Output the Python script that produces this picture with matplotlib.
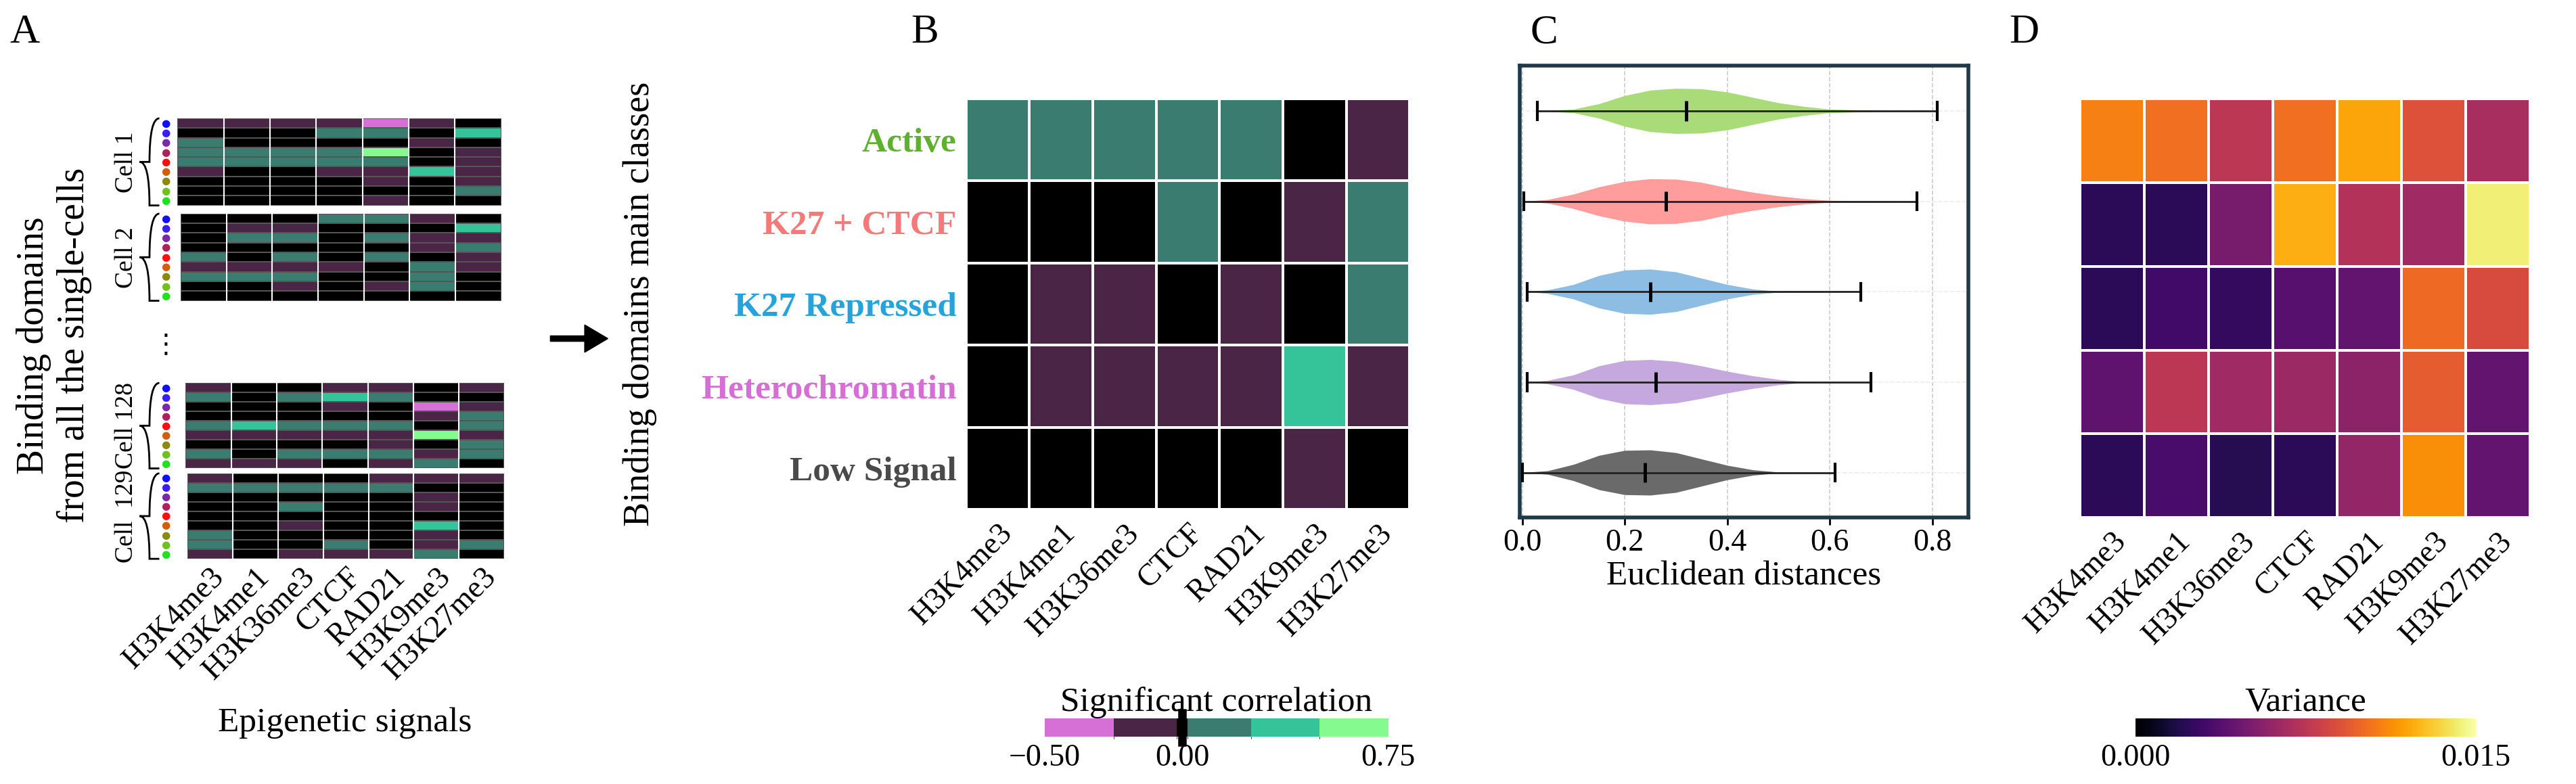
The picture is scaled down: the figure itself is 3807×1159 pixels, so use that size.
"""figure_domains.py — Classes de domaines de liaison et signaux épigénétiques.

Quatre panneaux :
  A - schéma des domaines de liaison par cellule (heatmaps par cellule),
  B - corrélation significative classe × signal,
  C - distances euclidiennes par classe (violons),
  D - variance par classe × signal.
"""

import numpy as np
import matplotlib
matplotlib.use("Agg")                    # pas d'affichage interactif
import matplotlib.pyplot as plt
from matplotlib.colors import ListedColormap, BoundaryNorm
from matplotlib.path import Path
from matplotlib.patches import PathPatch, FancyArrow

plt.rcParams["font.family"] = ["Liberation Serif", "DejaVu Serif"]

W, H = 1568.0, 477.0                     # repère de mesure sur la référence
FS_TICK, FS_LAB, FS_LET = 33, 37, 44

SIGNALS = ["H3K4me3", "H3K4me1", "H3K36me3", "CTCF", "RAD21", "H3K9me3", "H3K27me3"]
CLASSES = ["Active", "K27 + CTCF", "K27 Repressed", "Heterochromatin", "Low Signal"]
CLASS_TXT = ["#5fb030", "#f47a7a", "#27a3dc", "#d56fd5", "#4a4a4a"]
VIOLIN_COL = ["#a9dc78", "#ff9c9c", "#8dbde3", "#c5a8de", "#6a6a6a"]

CORR_COLORS = ["#d670d6", "#4a2545", "#000000", "#3a7d70", "#35c39a", "#85fb8f"]
CORR_BOUNDS = [-0.5, -0.25, -0.02, 0.02, 0.25, 0.5, 0.75]
CODE_VAL = {-2: -0.375, -1: -0.125, 0: 0.0, 1: 0.125, 2: 0.375, 3: 0.625}

# ── Panneau A : codes par cellule (9 domaines × 7 signaux) ──────────────────
CELLS = {
    "Cell 1": [[-1, -1, -1, -1, -2, -1, 0], [0, 0, 0, 1, 1, 0, 2], [1, 0, 0, 0, 0, -1, 0],
               [1, 1, 1, 1, 3, 0, -1], [1, 1, 1, 1, 1, 0, -1], [-1, 0, 0, -1, -1, 2, -1],
               [0, 0, 0, 0, -1, 0, -1], [0, 0, 0, 0, 0, 0, 1], [0, 0, 0, 0, -1, 0, 0]],
    "Cell 2": [[0, 0, 0, 1, 1, -1, 0], [0, -1, -1, 0, 0, 0, 2], [0, 1, 1, 0, 1, -1, -1],
               [0, 0, 0, 0, 0, -1, 1], [1, 0, 1, 0, 1, 0, -1], [-1, -1, -1, -1, 0, 1, -1],
               [1, 1, 1, 0, 0, 1, 0], [0, 0, -1, 0, -1, 1, 0], [0, 0, 0, 0, 0, 0, 0]],
    "Cell 128": [[-1, 0, 0, -1, -1, 0, -1], [1, 0, 1, 2, 1, 0, 0], [0, 0, 0, -1, 0, -2, -1],
                 [0, 0, 0, 0, 0, -1, 1], [1, 2, 1, 1, 1, 0, 1], [-1, -1, -1, -1, -1, 3, -1],
                 [0, 0, 0, 0, -1, 0, 1], [1, 0, 1, 1, 1, -1, 1], [-1, -1, -1, 0, -1, 1, 0]],
    "Cell  129": [[-1, 0, 0, 0, -1, -1, -1], [1, 1, 1, 1, 1, 0, 0], [0, 0, 0, 0, 0, -1, 0],
                  [0, 0, 1, 0, 0, -1, 0], [0, 0, 0, 0, 0, 0, 0], [0, 0, -1, 0, 0, 2, 0],
                  [1, 0, 0, 0, 0, -1, 0], [1, 0, 0, 1, 0, -1, 1], [-1, 0, -1, -1, -1, 1, 0]],
}
CELL_BOXES = [(108, 72, 305, 125), (110, 130, 305, 183), (113, 233, 307, 285), (114, 288, 307, 340)]
DOT_COLORS = ["#1010ff", "#3a20f0", "#7a2aa8", "#b0205a", "#ff1010", "#d06010",
              "#8a8a10", "#70c020", "#20e020"]

# ── Panneau B : corrélations (classes × signaux) ────────────────────────────
CORR = [[1, 1, 1, 1, 1, 0, -1],
        [0, 0, 0, 1, 0, -1, 1],
        [0, -1, -1, 0, -1, 0, 1],
        [0, -1, -1, -1, -1, 2, -1],
        [0, 0, 0, 0, 0, -1, 0]]

# ── Panneau C : profils des violons (x, demi-largeur) + min / médiane / max ─
VIOLINS = [
    dict(x=[0.03, 0.10, 0.15, 0.20, 0.25, 0.30, 0.35, 0.40, 0.45, 0.50, 0.55, 0.60, 0.70, 0.81],
         w=[0.0, 0.02, 0.08, 0.17, 0.23, 0.25, 0.245, 0.21, 0.15, 0.09, 0.05, 0.02, 0.005, 0.0],
         stats=(0.03, 0.32, 0.81)),
    dict(x=[0.003, 0.05, 0.10, 0.15, 0.20, 0.25, 0.30, 0.35, 0.40, 0.45, 0.50, 0.55, 0.60, 0.77],
         w=[0.0, 0.02, 0.08, 0.16, 0.22, 0.25, 0.245, 0.21, 0.15, 0.10, 0.06, 0.03, 0.01, 0.0],
         stats=(0.003, 0.28, 0.77)),
    dict(x=[0.01, 0.05, 0.10, 0.15, 0.20, 0.25, 0.30, 0.35, 0.40, 0.45, 0.50, 0.66],
         w=[0.0, 0.02, 0.08, 0.18, 0.24, 0.25, 0.22, 0.15, 0.08, 0.03, 0.005, 0.0],
         stats=(0.01, 0.25, 0.66)),
    dict(x=[0.01, 0.05, 0.10, 0.15, 0.20, 0.25, 0.30, 0.35, 0.40, 0.45, 0.50, 0.55, 0.68],
         w=[0.0, 0.02, 0.08, 0.18, 0.24, 0.25, 0.23, 0.18, 0.12, 0.07, 0.03, 0.005, 0.0],
         stats=(0.01, 0.26, 0.68)),
    dict(x=[0.0, 0.05, 0.10, 0.15, 0.20, 0.25, 0.30, 0.35, 0.40, 0.45, 0.50, 0.61],
         w=[0.0, 0.02, 0.09, 0.19, 0.245, 0.25, 0.22, 0.15, 0.08, 0.03, 0.005, 0.0],
         stats=(0.0, 0.24, 0.61)),
]

# ── Panneau D : variance (fraction de 0.015) ────────────────────────────────
VAR = np.array([[0.72, 0.68, 0.50, 0.68, 0.80, 0.60, 0.45],
                [0.15, 0.15, 0.33, 0.82, 0.48, 0.43, 0.95],
                [0.15, 0.20, 0.17, 0.25, 0.28, 0.67, 0.58],
                [0.27, 0.50, 0.43, 0.42, 0.38, 0.63, 0.28],
                [0.15, 0.22, 0.14, 0.15, 0.40, 0.75, 0.28]]) * 0.015


def box(fig, x0, y0, x1, y1):
    """Axes à partir d'un rectangle mesuré (pixels de la référence, origine en haut)."""
    return fig.add_axes([x0 / W, 1 - y1 / H, (x1 - x0) / W, (y1 - y0) / H])


def brace(fig, x, y0, y1, depth=6):
    """Accolade verticale ouverte vers la droite, en pixels de référence."""
    ym = (y0 + y1) / 2
    pts = [(x + depth, y0), (x, y0), (x, ym), (x - depth, ym),
           (x, ym), (x, y1), (x + depth, y1)]
    pts = [(px / W, 1 - py / H) for px, py in pts]
    codes = [Path.MOVETO, Path.CURVE3, Path.CURVE3, Path.LINETO,
             Path.CURVE3, Path.CURVE3, Path.LINETO]
    fig.patches.append(PathPatch(Path(pts, codes), fill=False, lw=2,
                                 transform=fig.transFigure))


def panel_a(fig, cmap, norm):
    for k, ((name, codes), (x0, y0, x1, y1)) in enumerate(zip(CELLS.items(), CELL_BOXES)):
        ax = box(fig, x0, y0, x1, y1)
        vals = np.vectorize(CODE_VAL.get)(np.array(codes))
        ax.pcolormesh(vals, cmap=cmap, norm=norm, edgecolors="#555555", linewidth=0.3)
        for c in range(1, 7):
            ax.axvline(c, color="white", lw=1.5)
        ax.invert_yaxis()
        ax.set_xticks([])
        ax.set_yticks([])
        for s in ax.spines.values():
            s.set_visible(False)
        # points colorés (un par domaine)
        for r, col in enumerate(DOT_COLORS):
            yy = y0 + (r + 0.5) * (y1 - y0) / 9
            fig.text(101 / W, 1 - yy / H, "●", color=col, fontsize=11,
                     ha="center", va="center", family="DejaVu Sans")
        brace(fig, 91, y0, y1)
        fig.text(77 / W, 1 - (y0 + y1) / 2 / H, name, rotation=90, fontsize=27,
                 ha="center", va="center")
        if k == 3:
            ax.set_xticks(np.arange(7) + 0.5)
            ax.set_xticklabels(SIGNALS, rotation=45, ha="right", fontsize=FS_TICK,
                               rotation_mode="anchor")
            ax.tick_params(length=0, pad=4)
    fig.text(101 / W, 1 - 210 / H, "⋮", fontsize=28, ha="center", va="center",
             family="DejaVu Sans")
    fig.text(210 / W, 1 - 440 / H, "Epigenetic signals", fontsize=FS_LAB, ha="center", va="center")
    fig.text(33 / W, 1 - 210 / H, "Binding domains\nfrom all the single-cells", rotation=90,
             fontsize=FS_LAB + 3, ha="center", va="center", linespacing=1.2)
    fig.text(15 / W, 1 - 20 / H, "A", fontsize=FS_LET, ha="center", va="center")
    fig.patches.append(FancyArrow(335 / W, 1 - 206 / H, 35 / W, 0, width=0.007,
                                  head_width=0.035, head_length=0.009, color="black",
                                  length_includes_head=True, transform=fig.transFigure))


def panel_b(fig, cmap, norm):
    ax = box(fig, 588, 60, 858, 310)
    vals = np.vectorize(CODE_VAL.get)(np.array(CORR))
    ax.pcolormesh(vals, cmap=cmap, norm=norm, edgecolors="white", linewidth=1.5)
    ax.invert_yaxis()
    ax.set_yticks(np.arange(5) + 0.5)
    ax.set_yticklabels(CLASSES, fontsize=FS_LAB, fontweight="bold")
    for lab, col in zip(ax.get_yticklabels(), CLASS_TXT):
        lab.set_color(col)
    ax.set_xticks(np.arange(7) + 0.5)
    ax.set_xticklabels(SIGNALS, rotation=45, ha="right", rotation_mode="anchor", fontsize=FS_TICK)
    ax.tick_params(length=0, pad=10)
    for s in ax.spines.values():
        s.set_visible(False)
    ax.set_ylabel("Binding domains main classes", fontsize=FS_LAB + 2)
    ax.yaxis.set_label_coords((400 - 588) / 270, 0.5)

    cax = box(fig, 636, 437, 845, 448)
    cb = fig.colorbar(plt.cm.ScalarMappable(norm=norm, cmap=cmap), cax=cax,
                      orientation="horizontal", ticks=[-0.5, 0.0, 0.75], spacing="proportional")
    cb.ax.set_xticklabels(["\u22120.50", "0.00", "0.75"], fontsize=FS_TICK)
    cb.outline.set_visible(False)
    cb.ax.tick_params(length=0, pad=8)
    cb.ax.axvline(0.0, ymin=-0.3, ymax=1.3, color="black", lw=9, clip_on=False)
    cb.ax.set_title("Significant correlation", fontsize=FS_LAB, pad=4)
    fig.text(563 / W, 1 - 20 / H, "B", fontsize=FS_LET, ha="center", va="center")


def panel_c(fig):
    ax = box(fig, 925, 40, 1198, 315)
    for i, v in enumerate(VIOLINS):
        x = np.array(v["x"])
        w = np.array(v["w"])
        ax.fill_between(x, i - w, i + w, color=VIOLIN_COL[i], lw=0, zorder=2)
        lo, med, hi = v["stats"]
        ax.hlines(i, lo, hi, color="#222222", lw=2, zorder=3)
        ax.vlines([lo, hi], i - 0.11, i + 0.11, color="black", lw=3, zorder=3)
        ax.vlines(med, i - 0.11, i + 0.11, color="black", lw=3.5, zorder=3)
    ax.set_ylim(4.5, -0.5)
    ax.set_xlim(-0.005, 0.87)
    ax.set_yticks(range(5))
    ax.set_yticklabels([])
    ax.tick_params(axis="y", length=0)
    ax.set_xticks([0.0, 0.2, 0.4, 0.6, 0.8])
    ax.tick_params(axis="x", labelsize=FS_TICK, length=8, width=2)
    ax.grid(axis="x", ls="--", color="#cccccc", lw=1.2)
    ax.grid(axis="y", ls="--", color="#eeeeee", lw=1.2)
    ax.set_axisbelow(True)
    for s in ax.spines.values():
        s.set_color("#1d3a4a")
        s.set_linewidth(4)
    ax.set_xlabel("Euclidean distances", fontsize=FS_LAB)
    fig.text(940 / W, 1 - 20 / H, "C", fontsize=FS_LET, ha="center", va="center")


def panel_d(fig):
    ax = box(fig, 1266, 60, 1540, 315)
    mesh = ax.pcolormesh(VAR, cmap="inferno", vmin=0, vmax=0.015,
                         edgecolors="white", linewidth=1.5)
    ax.invert_yaxis()
    ax.set_yticks([])
    ax.set_xticks(np.arange(7) + 0.5)
    ax.set_xticklabels(SIGNALS, rotation=45, ha="right", rotation_mode="anchor", fontsize=FS_TICK)
    ax.tick_params(length=0, pad=10)
    for s in ax.spines.values():
        s.set_visible(False)

    cax = box(fig, 1300, 437, 1507, 448)
    cb = fig.colorbar(mesh, cax=cax, orientation="horizontal", ticks=[0, 0.015])
    cb.ax.set_xticklabels(["0.000", "0.015"], fontsize=FS_TICK)
    cb.outline.set_visible(False)
    cb.ax.tick_params(length=0, pad=8)
    cb.ax.set_title("Variance", fontsize=FS_LAB, pad=2)
    fig.text(1232 / W, 1 - 20 / H, "D", fontsize=FS_LET, ha="center", va="center")


def main():
    cmap = ListedColormap(CORR_COLORS)
    norm = BoundaryNorm(CORR_BOUNDS, cmap.N)
    fig = plt.figure(figsize=(38.07, 11.59), dpi=100)
    panel_a(fig, cmap, norm)
    panel_b(fig, cmap, norm)
    panel_c(fig)
    panel_d(fig)
    fig.savefig("out.png", dpi=100)
    plt.close(fig)


if __name__ == "__main__":
    main()
